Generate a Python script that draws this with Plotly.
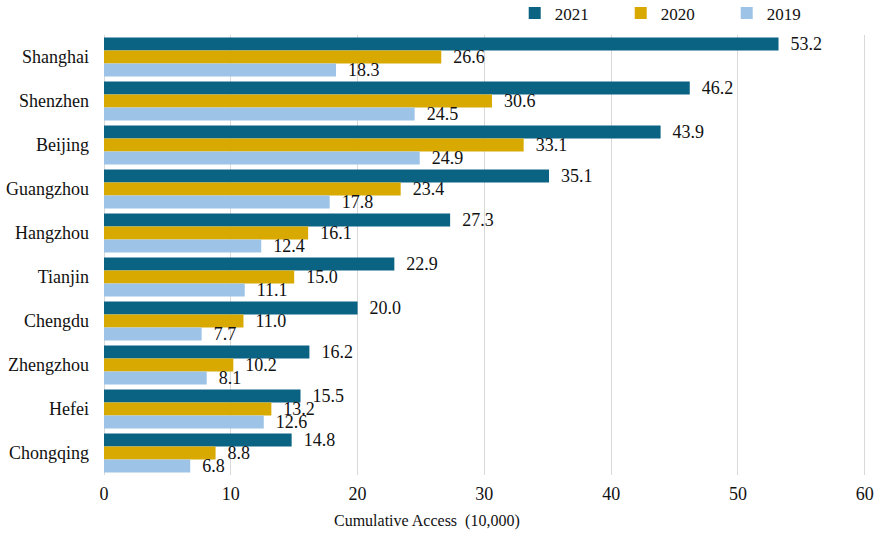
import plotly.graph_objects as go

cities = ["Shanghai", "Shenzhen", "Beijing", "Guangzhou", "Hangzhou",
          "Tianjin", "Chengdu", "Zhengzhou", "Hefei", "Chongqing"]
access_2021 = [53.2, 46.2, 43.9, 35.1, 27.3, 22.9, 20.0, 16.2, 15.5, 14.8]
access_2020 = [26.6, 30.6, 33.1, 23.4, 16.1, 15.0, 11.0, 10.2, 13.2, 8.8]
access_2019 = [18.3, 24.5, 24.9, 17.8, 12.4, 11.1, 7.7, 8.1, 12.6, 6.8]
x_ticks = [0, 10, 20, 30, 40, 50, 60]
x_title = "Cumulative Access\u00a0\u00a0(10,000)"

series = [
    ("2021", access_2021, "#0B6384"),
    ("2020", access_2020, "#D8A900"),
    ("2019", access_2019, "#9DC3E6"),
]

FONT = "Times New Roman"
NBSP = "\u00a0"

fig = go.Figure()
for name, vals, color in series:
    fig.add_trace(go.Bar(
        name=name,
        y=cities,
        x=vals,
        orientation="h",
        marker=dict(color=color, line=dict(width=0)),
        texttemplate=NBSP * 2 + "%{x:.1f}",
        textposition="outside",
        constraintext="none",
        cliponaxis=False,
        textfont=dict(family=FONT, size=18, color="#111111"),
    ))

# axis title sits a little left of the plot centre
fig.add_annotation(
    text=x_title, xref="paper", yref="paper",
    x=0.424, y=-0.1045, xanchor="center", yanchor="middle",
    showarrow=False, font=dict(family=FONT, size=16, color="#111111"),
)

fig.update_layout(
    template="none",
    width=880,
    height=537,
    barmode="group",
    bargap=0.11,
    bargroupgap=0,
    plot_bgcolor="white",
    paper_bgcolor="white",
    font=dict(family=FONT, size=16, color="#111111"),
    margin=dict(l=104, r=14, t=35, b=62, autoexpand=False),
    legend=dict(
        orientation="h",
        x=0.539, xanchor="left",
        y=1.09, yanchor="top",
        yref="paper",
        entrywidth=61,
        font=dict(family=FONT, size=17),
        itemwidth=30,
    ),
    xaxis=dict(
        range=[0, 60.1],
        tickvals=x_ticks,
        automargin=False,
        showgrid=True,
        gridcolor="#D9D9D9",
        gridwidth=1,
        zeroline=True,
        zerolinecolor="#D9D9D9",
        zerolinewidth=1,
        showline=False,
        ticks="",
        ticklabelstandoff=6,
        tickfont=dict(family=FONT, size=18),
    ),
    yaxis=dict(
        autorange="reversed",
        automargin=False,
        showgrid=False,
        showline=False,
        ticks="",
        ticklabelstandoff=14,
        tickfont=dict(family=FONT, size=18),
    ),
)

fig.write_html("out.html")
